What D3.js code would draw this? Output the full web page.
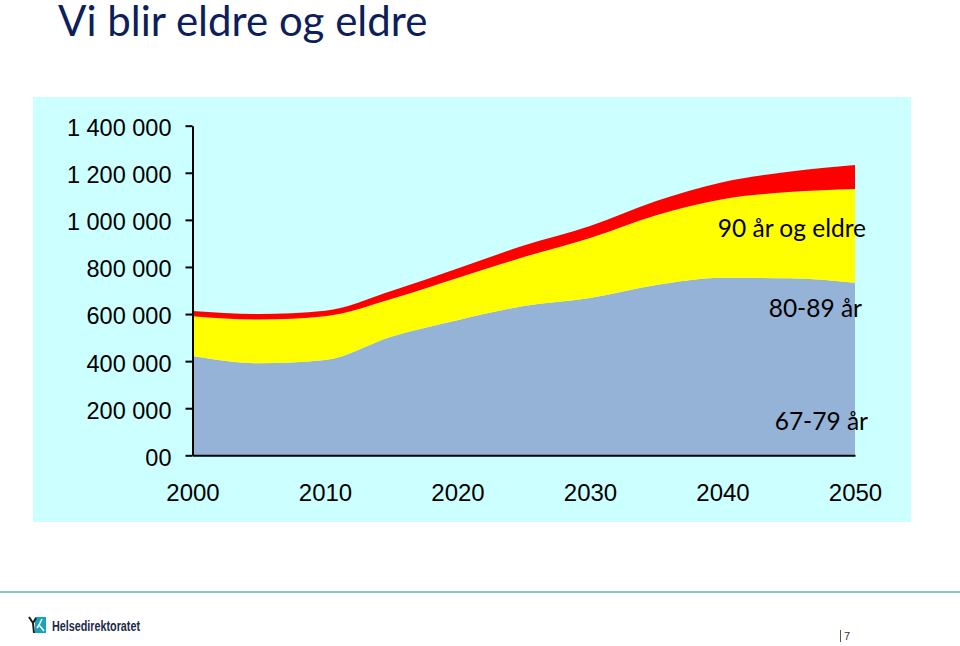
<!DOCTYPE html>
<html>
<head>
<meta charset="utf-8">
<script src="https://cdn.jsdelivr.net/npm/d3@7"></script>
<style>
  body { margin: 0; background: #fff; }
  svg { display: block; }
</style>
</head>
<body>
<div id="chart"></div>
<script>
// Eldre befolkning etter aldersgruppe, 2000-2050 (lest av figuren)
const years = [2000, 2005, 2010, 2015, 2020, 2025, 2030, 2035, 2040, 2045, 2050];
const age6779 = [422000, 391000, 405000, 504000, 574000, 634000, 668000, 723000, 754000, 752000, 733000];
const age8089 = [169000, 186000, 186000, 160000, 179000, 208000, 255000, 297000, 334000, 366000, 398000];
const age90 = [22000, 23000, 23000, 34000, 40000, 49000, 51000, 60000, 72000, 86000, 102000];

const seriesKeys = ['67-79 år', '80-89 år', '90 år og eldre'];
const seriesColors = ['#95b3d7', '#ffff00', '#ff0000'];
const yTicks = [0, 200000, 400000, 600000, 800000, 1000000, 1200000, 1400000];
const xTicks = [2000, 2010, 2020, 2030, 2040, 2050];

const width = 960, height = 646;

const svg = d3.select('#chart')
    .append('svg')
    .attr('width', width)
    .attr('height', height);

// Title
svg.append('text')
    .attr('x', 58)
    .attr('y', 36)
    .attr('font-family', 'Lato, "Open Sans", sans-serif')
    .attr('font-size', 42)
    .attr('fill', '#0c1f5a')
    .text('Vi blir eldre og eldre');

// Chart panel
svg.append('rect')
    .attr('x', 33).attr('y', 97)
    .attr('width', 878).attr('height', 425)
    .attr('fill', '#ccffff');

const x = d3.scaleLinear().domain([2000, 2050]).range([192.5, 855]);
const y = d3.scaleLinear().domain([0, 1400000]).range([455.3, 125.7]);

// Stack the three age groups
const rows = years.map((yr, i) => ({
    year: yr,
    '67-79 år': age6779[i],
    '80-89 år': age8089[i],
    '90 år og eldre': age90[i]
}));
const stacked = d3.stack().keys(seriesKeys)(rows);

const area = d3.area()
    .x(d => x(d.data.year))
    .y0(d => y(d[0]))
    .y1(d => y(d[1]))
    .curve(d3.curveMonotoneX);

svg.selectAll('.layer')
    .data(stacked)
    .enter()
    .append('path')
    .attr('class', 'layer')
    .attr('fill', (d, i) => seriesColors[i])
    .attr('d', area);

// Axes
const locale = d3.formatLocale({ decimal: ',', thousands: ' ', grouping: [3], currency: ['', ' kr'] });
const fmt = locale.format(',');

const yAxis = svg.append('g')
    .attr('transform', 'translate(192.5,0)')
    .call(d3.axisLeft(y)
        .tickValues(yTicks)
        .tickSize(7)
        .tickSizeOuter(0)
        .tickPadding(14)
        .tickFormat(d => d === 0 ? '00' : fmt(d)));

const xAxis = svg.append('g')
    .attr('transform', `translate(0,${y(0)})`)
    .call(d3.axisBottom(x)
        .tickValues(xTicks)
        .tickSize(0)
        .tickSizeOuter(0)
        .tickPadding(29)
        .tickFormat(d3.format('d')));

[yAxis, xAxis].forEach(g => {
    g.select('.domain').attr('stroke', '#000').attr('stroke-width', 2);
    g.selectAll('.tick line').attr('stroke', '#000').attr('stroke-width', 2);
    g.selectAll('.tick text')
        .attr('fill', '#000')
        .attr('font-family', '"Liberation Sans", Arial, sans-serif');
});
yAxis.selectAll('.tick text').attr('font-size', 23.5).attr('dy', '0.42em');
xAxis.selectAll('.tick text').attr('font-size', 24);

// Series labels
const labels = [
    { text: '90 år og eldre', x: 866, y: 237 },
    { text: '80-89 år', x: 862, y: 317 },
    { text: '67-79 år', x: 868, y: 430 }
];
svg.selectAll('.series-label')
    .data(labels)
    .enter()
    .append('text')
    .attr('class', 'series-label')
    .attr('x', d => d.x)
    .attr('y', d => d.y)
    .attr('text-anchor', 'end')
    .attr('font-family', 'Lato, "Open Sans", sans-serif')
    .attr('font-size', 24.5)
    .attr('fill', '#000')
    .text(d => d.text);

// Footer
svg.append('line')
    .attr('x1', 0).attr('x2', width)
    .attr('y1', 592).attr('y2', 592)
    .attr('stroke', '#8cc5c5')
    .attr('stroke-width', 2);

const logo = svg.append('g');
logo.append('rect')
    .attr('x', 35).attr('y', 617)
    .attr('width', 11).attr('height', 16)
    .attr('fill', '#1aa3b8');
logo.append('path')
    .attr('d', 'M29,617 L33,623 L36,618 M33,623 L34,633')
    .attr('stroke', '#1a1a1a').attr('stroke-width', 2).attr('fill', 'none');
logo.append('path')
    .attr('d', 'M42,619 L39,625 L44,631 M39,625 L37,628')
    .attr('stroke', '#fff').attr('stroke-width', 1.5).attr('fill', 'none');
logo.append('text')
    .attr('x', 52).attr('y', 631)
    .attr('font-family', '"Liberation Sans", Arial, sans-serif')
    .attr('font-weight', 'bold')
    .attr('font-size', 14)
    .attr('textLength', 88)
    .attr('lengthAdjust', 'spacingAndGlyphs')
    .attr('fill', '#1c2a4a')
    .text('Helsedirektoratet');

svg.append('line')
    .attr('x1', 840.5).attr('x2', 840.5)
    .attr('y1', 630).attr('y2', 642)
    .attr('stroke', '#555').attr('stroke-width', 1);
svg.append('text')
    .attr('x', 844).attr('y', 640)
    .attr('font-family', '"Liberation Sans", sans-serif')
    .attr('font-size', 11)
    .attr('fill', '#333')
    .text('7');
</script>
</body>
</html>
